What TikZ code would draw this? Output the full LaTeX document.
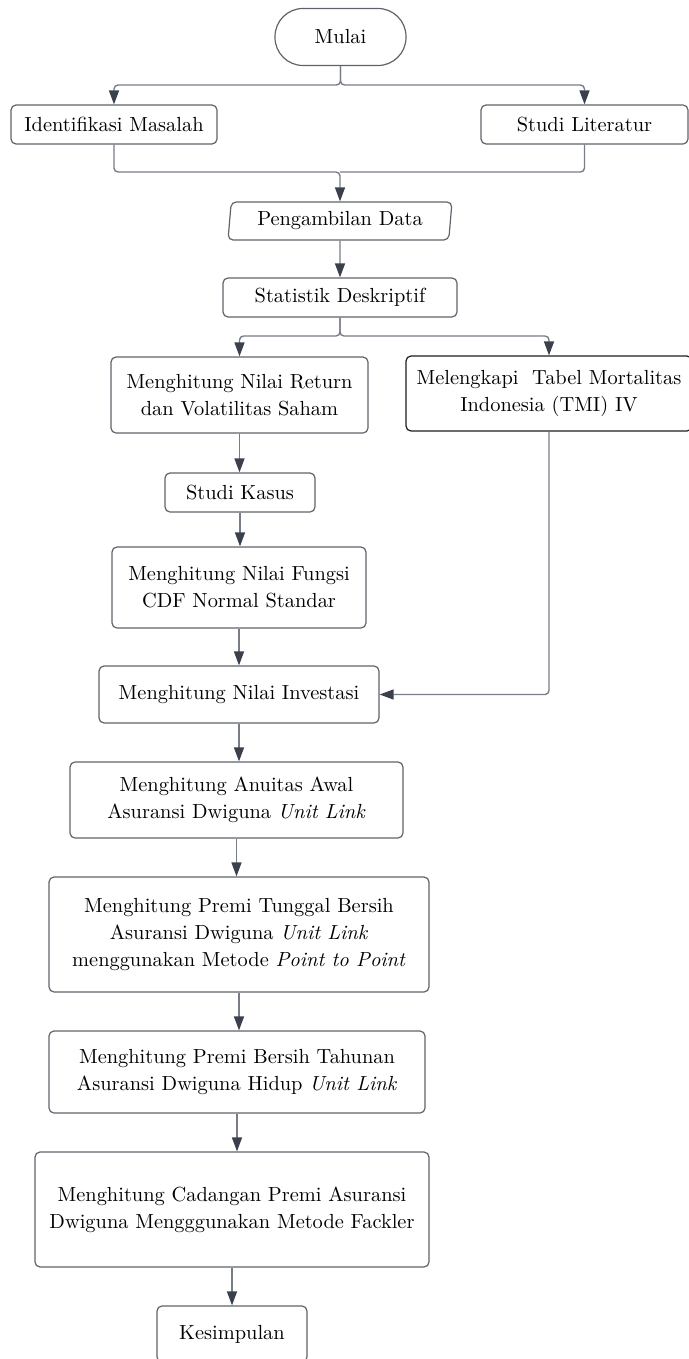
\documentclass[tikz,border=0pt]{standalone}
\usepackage{xcolor}
\usepackage{tikz}
\usetikzlibrary{shapes.geometric, arrows.meta, positioning, calc}
\definecolor{boxgray}{RGB}{95,100,108}
\definecolor{linegray}{RGB}{120,125,133}
\definecolor{tipdark}{RGB}{58,65,77}
\definecolor{boxdark}{RGB}{30,30,34}
\newcommand{\flowfont}{\fontsize{10.2}{13.5}\selectfont}
\tikzset{
  box/.style={rectangle, draw=boxgray, fill=white, align=center,
    font=\flowfont, rounded corners=2.5pt, line width=0.6pt, inner sep=0pt},
  darkbox/.style={box, draw=boxdark},
  term/.style={box, rounded corners=14pt},
  iobox/.style={trapezium, trapezium left angle=80, trapezium right angle=100,
    trapezium stretches body, draw=boxgray, fill=white, font=\flowfont,
    rounded corners=2.5pt, line width=0.6pt, inner sep=0pt},
  arrow/.style={-{Triangle[length=7pt, width=5pt, color=tipdark]},
    draw=linegray, line width=0.7pt, rounded corners=2pt},
  line/.style={draw=linegray, line width=0.7pt, rounded corners=2pt}
}

\begin{document}
\begin{tikzpicture}[x=0.5pt, y=-0.5pt]
  \useasboundingbox (0,0) rectangle (689,1359);

  % --- START AND FIRST STEPS ---
  \node[term, minimum width=65.5pt, minimum height=28.5pt] (mulai) at (340.5,37) {Mulai};
  \node[box, minimum width=103pt, minimum height=19.5pt] (ident) at (114,124.5) {Identifikasi Masalah};
  \node[box, minimum width=103.5pt, minimum height=19.5pt] (studi) at (584.5,124.5) {Studi Literatur};
  \node[iobox, minimum width=112pt, minimum height=19pt] (data) at (340,221) {Pengambilan Data};
  \node[box, minimum width=117pt, minimum height=19.5pt] (stat) at (340,297.5) {Statistik Deskriptif};

  \coordinate (split1) at (340.5,85);
  \coordinate (join1) at (340,172);
  \coordinate (split2) at (340,336);

  \draw[arrow] (mulai.south) -- (split1) -| (ident.north);
  \draw[arrow] (mulai.south) -- (split1) -| (studi.north);
  \draw[line] (studi.south) |- (join1);
  \draw[arrow] (ident.south) |- (join1) -- (data.north);
  \draw[arrow] (data.south) -- (stat.north);

  % --- TWO BRANCHES ---
  \node[box, minimum width=128.5pt, minimum height=38pt] (ret) at (239.5,395) {Menghitung Nilai Return\\dan Volatilitas Saham};
  \node[darkbox, minimum width=143pt, minimum height=37.5pt] (mel) at (549,393.5) {Melengkapi\ \ Tabel Mortalitas\\Indonesia (TMI) IV};
  \node[box, minimum width=75pt, minimum height=19.5pt] (kasus) at (240,492.5) {Studi Kasus};
  \node[box, minimum width=127pt, minimum height=40.5pt] (cdf) at (239,587.5) {Menghitung Nilai Fungsi\\CDF Normal Standar};
  \node[box, minimum width=140pt, minimum height=28.5pt] (inv) at (239,694.5) {Menghitung Nilai Investasi};

  \draw[arrow] (stat.south) -- (split2) -| (ret.north);
  \draw[arrow] (stat.south) -- (split2) -| (mel.north);
  \draw[arrow] (ret.south) -- (ret.south |- kasus.north);
  \draw[arrow] (kasus.south) -- (kasus.south |- cdf.north);
  \draw[arrow] (cdf.south) -- (cdf.south |- inv.north);
  \draw[arrow] (mel.south) |- (inv.east);

  % --- PREMIUM CALCULATION ---
  \node[box, minimum width=166.5pt, minimum height=38pt] (anu) at (236.5,800) {Menghitung Anuitas Awal\\Asuransi Dwiguna \textit{Unit Link}};
  \node[box, minimum width=190pt, minimum height=57.5pt] (tung) at (239,934.5) {Menghitung Premi Tunggal Bersih\\Asuransi Dwiguna \textit{Unit Link}\\menggunakan Metode \textit{Point to Point}};
  \node[box, minimum width=188pt, minimum height=41pt] (tahun) at (237,1072) {Menghitung Premi Bersih Tahunan\\Asuransi Dwiguna Hidup \textit{Unit Link}};
  \node[box, minimum width=197pt, minimum height=57.5pt] (cad) at (232,1209.5) {Menghitung Cadangan Premi Asuransi\\Dwiguna Mengggunakan Metode Fackler};
  \node[box, minimum width=75pt, minimum height=28pt] (kes) at (232,1334) {Kesimpulan};

  \draw[arrow] (inv.south) -- (inv.south |- anu.north);
  \draw[arrow] (anu.south) -- (anu.south |- tung.north);
  \draw[arrow] (tung.south) -- (tung.south |- tahun.north);
  \draw[arrow] (tahun.south) -- (tahun.south |- cad.north);
  \draw[arrow] (cad.south) -- (cad.south |- kes.north);
\end{tikzpicture}
\end{document}
